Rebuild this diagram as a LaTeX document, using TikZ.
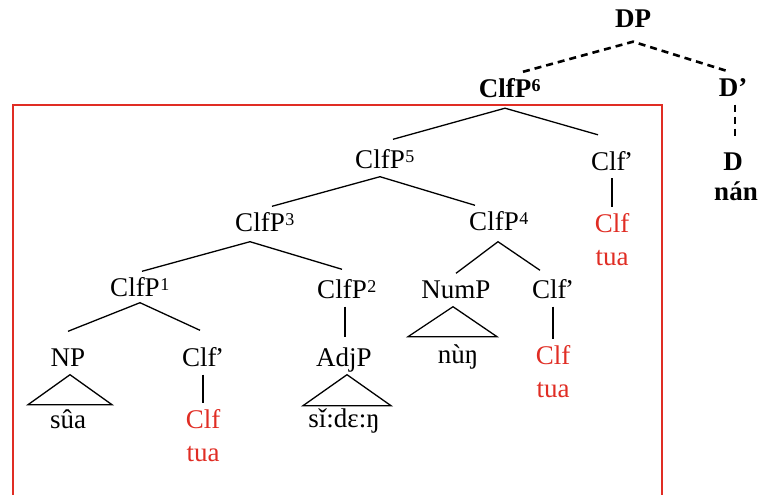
\documentclass[tikz,border=0pt]{standalone}
\usepackage{fontspec}
\setmainfont{Liberation Serif}
\usetikzlibrary{positioning}
\definecolor{clfred}{RGB}{224,45,36}
\newcommand{\lvl}[1]{\rlap{\kern0.5pt\raisebox{6pt}{\fontsize{18}{18}\selectfont #1}}}
\newcommand{\prm}{\kern-1.5pt’}

\begin{document}
\begin{tikzpicture}[x=1pt,y=-1pt,font=\fontsize{27}{30}\selectfont,
    every node/.style={text height=17pt,text depth=0pt,inner xsep=1pt,inner ysep=8pt},
    br/.style={line width=1.3pt},
    dashline/.style={line width=2.6pt,dash pattern=on 7pt off 5pt},
    redlab/.style={text=clfred}]
  \useasboundingbox (0,0) rectangle (760,495);
  \draw[clfred,line width=1.2pt] (13,495) |- (662,105) -- (662,495);
  \node (DP) at (633,19) {\bfseries DP};
  \node (ClfP6) at (505,88.5) {\bfseries ClfP\lvl{6}};
  \node (Dbar) at (733,88) {\bfseries D’};
  \node (D) at (733,162) {\bfseries D};
  \node[below=-3pt of D,xshift=3pt] (nan) {\bfseries nán};
  \node (ClfP5) at (380,160) {ClfP\lvl{5}};
  \node (ClfbarA) at (612,161.5) {Clf\prm};
  \node[redlab] (ClfA) at (612,224) {Clf};
  \node[redlab,below=0pt of ClfA] (tuaA) {tua};
  \node (ClfP3) at (260,223) {ClfP\lvl{3}};
  \node (ClfP4) at (494,222) {ClfP\lvl{4}};
  \node (ClfP1) at (135,288) {ClfP\lvl{1}};
  \node (ClfP2) at (342,290) {ClfP\lvl{2}};
  \node (NumP) at (456,290) {NumP};
  \node (ClfbarB) at (553,290) {Clf\prm};
  \node[redlab] (ClfB) at (553,356) {Clf};
  \node[redlab,below=0pt of ClfB] (tuaB) {tua};
  \node (NP) at (68,358) {NP};
  \node (ClfbarC) at (203,358) {Clf\prm};
  \node (AdjP) at (344,358) {AdjP};
  \node[redlab] (ClfC) at (203,420) {Clf};
  \node[redlab,below=0pt of ClfC] (tuaC) {tua};
  \node[below=29pt of NP] (sua) {sûa};
  \node[below=28pt of AdjP] (sideng) {sǐ:dɛ:ŋ};
  \node[below=31.5pt of NumP,xshift=2pt] (nung) {nùŋ};
  \draw[dashline] ([xshift=18pt]ClfP6.north) -- ([yshift=-6pt]DP.south) -- ([xshift=-5pt]Dbar.north);
  \draw[dashline,shorten >=7pt] ([xshift=2pt]Dbar.south) -- ([xshift=2pt]D.north);
  \draw[br] ([xshift=13pt,yshift=4pt]ClfP5.north) -- ([yshift=-3pt]ClfP6.south) -- ([xshift=-14pt,yshift=10pt]ClfbarA.north);
  \draw[br] ([xshift=12pt]ClfP3.north) -- (ClfP5.south) -- ([xshift=-19pt]ClfP4.north);
  \draw[br] ([xshift=7pt]ClfP1.north) -- ([xshift=-10pt,yshift=-2pt]ClfP3.south) -- ([yshift=4pt]ClfP2.north);
  \draw[br] (NumP.north) -- ([xshift=4pt,yshift=-3pt]ClfP4.south) -- ([xshift=-13pt,yshift=3pt]ClfbarB.north);
  \draw[br] ([yshift=10pt]NP.north) -- ([xshift=5pt,yshift=2pt]ClfP1.south) -- ([xshift=-3pt,yshift=11pt]ClfbarC.north);
  \draw[br,shorten >=4pt] ([xshift=3pt]ClfP2.south) -- ([xshift=1pt]AdjP.north);
  \draw[br] (ClfbarA.south) -- (ClfA.north);
  \draw[br] (ClfbarB.south) -- (ClfB.north);
  \draw[br] (ClfbarC.south) -- (ClfC.north);
  \draw[br] ([xshift=2pt]NP.south) -- ++(-42,30) -- ++(84,0) -- cycle;
  \draw[br] ([xshift=3pt]AdjP.south) -- ++(-44,31) -- ++(88,0) -- cycle;
  \draw[br] ([xshift=-3pt]NumP.south) -- ++(-45,30) -- ++(89,0) -- cycle;
\end{tikzpicture}
\end{document}
